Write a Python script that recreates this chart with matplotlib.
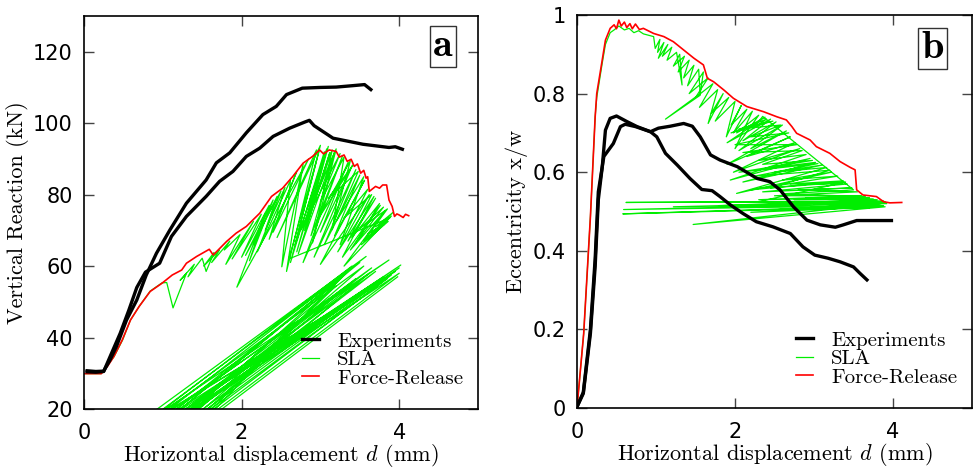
import matplotlib.pyplot as plt

plt.rcParams['mathtext.fontset'] = 'cm'
plt.rcParams['axes.unicode_minus'] = False

GREEN = '#00ee00'
RED = '#ff0000'

# ---- panel a: vertical reaction (kN) vs displacement (mm)
a_exp1_d = [0.04, 0.15, 0.25, 0.33, 0.41, 0.54, 0.67, 0.79, 0.92, 1.09, 1.30, 1.55,
            1.68, 1.85, 2.06, 2.27, 2.44, 2.57, 2.77, 3.00, 3.20, 3.41, 3.56, 3.64]
a_exp1_f = [30.7, 30.5, 30.6, 33.7, 37.4, 44.9, 50.5, 57.5, 63.6, 70.1, 77.6, 84.1,
            88.9, 91.7, 97.3, 102.4, 104.7, 108.0, 109.8, 110.0, 110.1, 110.5, 110.8, 109.4]

a_exp2_d = [0.04, 0.15, 0.25, 0.34, 0.46, 0.57, 0.67, 0.78, 0.96, 1.11, 1.30, 1.55, 1.72,
            1.89, 2.06, 2.23, 2.40, 2.61, 2.80, 2.86, 2.92, 3.16, 3.54, 3.87, 3.95, 4.04]
a_exp2_f = [30.4, 30.3, 30.5, 35.1, 41.2, 47.7, 54.0, 58.3, 60.8, 68.3, 73.9, 79.5, 83.7,
            86.5, 90.7, 93.0, 96.3, 98.6, 100.3, 100.8, 99.3, 95.8, 94.1, 93.2, 93.4, 92.7]

a_fr_d = [0, 0.22, 0.30, 0.38, 0.485, 0.59, 0.70, 0.84, 0.99, 1.12, 1.24, 1.30, 1.43,
          1.59, 1.64, 1.81, 1.93, 2.06, 2.23, 2.38, 2.52, 2.65, 2.78, 2.90, 2.99, 3.04,
          3.11, 3.20, 3.24, 3.30, 3.34, 3.39, 3.43, 3.47, 3.51, 3.55, 3.58, 3.60, 3.62,
          3.70, 3.75, 3.79, 3.84, 3.87, 3.91, 3.94, 3.97, 4.00, 4.05, 4.08, 4.12]
a_fr_f = [29.9, 29.9, 32.0, 34.7, 39.3, 44.9, 48.7, 52.9, 55.2, 57.5, 58.9, 60.8, 62.7,
          64.7, 63.1, 66.9, 69.2, 71.1, 74.8, 79.5, 81.8, 85.1, 88.8, 90.7, 92.5, 91.4,
          92.5, 92.1, 90.5, 91.1, 89.3, 89.9, 87.9, 88.6, 86.0, 86.8, 84.6, 85.0, 80.9,
          82.3, 81.8, 82.7, 82.7, 78.5, 76.7, 73.9, 74.6, 74.3, 73.6, 74.5, 74.1]

a_sla_d = [0.00, 0.22, 0.38, 0.49, 0.59, 0.70, 0.84, 0.99, 1.05, 1.13, 1.30, 1.22, 1.40,
           1.32, 1.50, 1.55, 1.65, 1.52, 1.72, 1.62, 1.85, 1.78, 1.98,
           1.80, 2.15, 1.88, 2.25, 2.00, 2.35, 2.15, 2.45, 2.30, 2.55, 2.35, 2.70, 2.40,
           2.85,
           1.94, 2.30, 2.10, 2.40, 2.05, 2.50, 2.20, 2.62, 2.51, 2.78, 2.57, 2.95, 2.45,
           3.00, 2.62, 3.05, 2.70, 3.10, 2.85, 3.15, 2.90, 3.20, 2.75, 3.25, 3.00, 3.30,
           3.15, 3.38, 2.95, 3.42, 3.10, 3.48, 3.20, 3.55, 3.25, 3.60, 3.30, 3.65, 3.35,
           3.70, 3.40, 3.75, 3.45, 3.80, 3.50, 3.85, 3.55, 3.92, 3.70, 3.88,
           2.60, 2.98, 2.68, 3.08, 2.80, 3.12, 2.72, 3.18, 2.88, 3.28, 2.78, 3.35, 3.00,
           3.40, 2.92, 3.45, 3.05, 3.50, 3.18, 3.56, 3.00, 3.62, 3.22, 3.68, 3.28, 3.76,
           3.38, 3.82, 3.30, 3.90, 3.52, 3.86, 3.60, 3.80]
a_sla_f = [29.9, 29.9, 34.6, 39.3, 44.9, 48.7, 53.0, 55.3, 55.4, 48.3, 58.0, 56.0, 60.5,
           57.0, 62.2, 58.5, 63.8, 60.0, 64.5, 61.0, 67.0, 64.5, 68.8,
           60.5, 72.5, 62.0, 74.5, 62.5, 77.0, 66.0, 79.5, 70.0, 82.0, 67.5, 86.5, 69.5,
           90.0,
           54.1, 74.8, 61.5, 78.5, 63.0, 81.0, 64.0, 84.0, 59.8, 88.5, 58.5, 92.5, 68.0,
           93.8, 61.0, 92.0, 64.0, 93.5, 73.0, 92.5, 66.5, 92.8, 70.0, 91.5, 78.0, 90.5,
           70.2, 89.5, 72.5, 88.5, 79.0, 86.5, 72.5, 85.0, 66.0, 81.5, 73.5, 80.0, 67.0,
           79.0, 68.0, 77.5, 66.5, 76.5, 70.5, 76.0, 67.0, 75.0, 71.0, 73.5,
           62.0, 92.0, 66.0, 92.8, 70.0, 91.8, 63.5, 92.0, 68.5, 90.8, 61.0, 89.0, 69.5,
           88.0, 62.5, 87.0, 66.0, 85.5, 68.5, 84.0, 60.5, 80.0, 64.0, 79.5, 62.5, 77.0,
           64.5, 75.5, 60.0, 74.0, 66.0, 72.5, 69.0, 71.5]

a_fan_d = [0.62, 3.58, 0.80, 3.87, 0.70, 3.50, 0.95, 4.02, 1.53, 3.95, 0.85, 3.65, 1.05,
           3.80, 0.90, 3.30, 1.15, 3.70, 1.00, 3.45, 1.25, 4.00, 1.10, 3.20, 1.35, 3.90,
           0.75, 3.55, 1.20, 3.75, 0.95, 3.35, 1.40, 4.00, 1.05, 3.62, 1.30, 3.85, 0.72,
           3.40, 1.45, 3.98]
a_fan_f = [15, 62.7, 15, 61.7, 15, 61.0, 15, 60.3, 22.5, 58.5, 15, 59.5, 15,
           57.0, 15, 57.5, 15, 58.5, 15, 56.5, 15, 59.5, 15, 54.5, 15, 57.5,
           15, 60.0, 15, 56.0, 15, 58.5, 15, 58.0, 15, 58.0, 15, 56.5, 15,
           60.0, 15, 57.0]

# ---- panel b: eccentricity x/w vs displacement (mm)
b_exp1_d = [0, 0.08, 0.17, 0.23, 0.27, 0.32, 0.36, 0.42, 0.50, 0.63, 0.76, 0.93, 1.01,
            1.12, 1.27, 1.43, 1.58, 1.71, 1.81, 1.94, 2.10, 2.27, 2.48, 2.70, 2.86, 3.01,
            3.18, 3.33, 3.50, 3.58, 3.67]
b_exp1_e = [0.003, 0.037, 0.19, 0.36, 0.53, 0.614, 0.707, 0.737, 0.743, 0.729, 0.716,
            0.703, 0.690, 0.648, 0.618, 0.584, 0.556, 0.553, 0.538, 0.517, 0.495, 0.474,
            0.461, 0.444, 0.41, 0.389, 0.381, 0.372, 0.359, 0.343, 0.326]

b_exp2_d = [0, 0.08, 0.17, 0.23, 0.27, 0.34, 0.46, 0.55, 0.61, 0.74, 0.93, 1.03, 1.18,
            1.35, 1.46, 1.56, 1.69, 1.81, 2.03, 2.28, 2.44, 2.57, 2.74, 2.91, 3.08, 3.27,
            3.37, 3.54, 3.98]
b_exp2_e = [0.003, 0.04, 0.20, 0.38, 0.55, 0.64, 0.673, 0.716, 0.722, 0.716, 0.703,
            0.712, 0.717, 0.724, 0.717, 0.690, 0.644, 0.631, 0.614, 0.584, 0.576, 0.555,
            0.512, 0.478, 0.466, 0.46, 0.466, 0.477, 0.477]

b_fr_d = [0, 0.085, 0.17, 0.23, 0.25, 0.32, 0.36, 0.42, 0.47, 0.50, 0.53, 0.56, 0.60,
          0.63, 0.67, 0.70, 0.74, 0.79, 0.84, 0.97, 1.10, 1.22, 1.35, 1.48, 1.60, 1.65,
          1.73, 1.86, 1.98, 2.15, 2.36, 2.53, 2.65, 2.72, 2.78, 2.95, 3.03, 3.20, 3.33,
          3.46, 3.52, 3.54, 3.62, 3.79, 3.88, 3.96, 4.11]
b_fr_e = [0, 0.19, 0.487, 0.741, 0.80, 0.886, 0.936, 0.966, 0.975, 0.965, 0.987, 0.972,
          0.982, 0.968, 0.978, 0.965, 0.977, 0.963, 0.966, 0.953, 0.945, 0.932, 0.911,
          0.890, 0.873, 0.839, 0.830, 0.809, 0.788, 0.767, 0.754, 0.741, 0.733, 0.716,
          0.699, 0.682, 0.665, 0.648, 0.627, 0.612, 0.606, 0.555, 0.542, 0.538, 0.525,
          0.522, 0.523]

b_sla_d = [0, 0.085, 0.17, 0.23, 0.25, 0.32, 0.36, 0.42, 0.47, 0.53, 0.60, 0.66, 0.72,
           0.78, 0.84, 0.97,
           0.99, 1.05, 1.02, 1.10, 1.03, 1.15, 1.08, 1.20, 1.14, 1.26, 1.33, 1.30, 1.22,
           1.36, 1.28, 1.42, 1.35, 1.48, 1.40, 1.54, 1.56, 1.12, 1.56, 1.60,
           1.42, 1.66, 1.50, 1.72, 1.55, 1.78, 1.66, 1.85, 1.70, 1.92, 1.75, 2.00, 1.89,
           2.08, 1.95, 2.15, 1.98, 2.22, 2.00, 2.30, 2.02, 2.38, 1.90, 2.45, 2.10, 2.52,
           2.05, 2.60, 2.20, 2.65, 1.90, 2.70, 2.15, 2.76, 1.98, 2.82, 2.30, 2.90, 1.94,
           2.95, 2.40, 3.02, 2.10, 3.10, 2.50, 3.16, 2.02, 3.22, 2.60, 3.30, 2.20, 3.37,
           2.70, 3.42, 2.35, 3.48, 2.80, 3.55, 2.50, 3.60, 2.30, 3.70, 2.90, 3.80, 1.80,
           3.88, 0.62, 3.90, 1.22, 3.92, 0.59, 3.88, 0.58, 3.90, 1.47, 3.85,
           2.30, 3.40, 2.45, 3.20, 2.25, 3.05, 2.05, 2.98, 2.35, 2.85, 2.10, 2.78, 2.00,
           2.68, 2.20, 2.58, 2.05, 2.48, 1.95, 2.40, 2.25, 2.35, 3.50, 2.60, 3.65, 2.75,
           3.75, 3.00, 3.92, 2.55, 3.82, 2.20, 3.70]
b_sla_e = [0, 0.19, 0.487, 0.741, 0.79, 0.878, 0.925, 0.955, 0.962, 0.972, 0.962, 0.966,
           0.955, 0.960, 0.952, 0.945,
           0.915, 0.938, 0.905, 0.930, 0.89, 0.925, 0.895, 0.918, 0.885, 0.905, 0.822,
           0.90, 0.87, 0.895, 0.855, 0.885, 0.84, 0.872, 0.82, 0.862, 0.796, 0.735, 0.80,
           0.855,
           0.80, 0.84, 0.79, 0.825, 0.765, 0.81, 0.724, 0.80, 0.75, 0.79, 0.73, 0.78, 0.69,
           0.77, 0.72, 0.76, 0.70, 0.755, 0.66, 0.745, 0.70, 0.74, 0.675, 0.735, 0.68,
           0.728, 0.655, 0.72, 0.66, 0.705, 0.62, 0.69, 0.64, 0.675, 0.60, 0.66, 0.63,
           0.645, 0.58, 0.635, 0.61, 0.625, 0.575, 0.618, 0.60, 0.612, 0.546, 0.60, 0.58,
           0.59, 0.555, 0.578, 0.57, 0.57, 0.55, 0.56, 0.555, 0.55, 0.54, 0.54, 0.53,
           0.535, 0.535, 0.53, 0.515, 0.527, 0.523, 0.525, 0.512, 0.52, 0.505, 0.515,
           0.494, 0.512, 0.467, 0.52,
           0.525, 0.575, 0.56, 0.605, 0.59, 0.622, 0.60, 0.63, 0.62, 0.655, 0.65, 0.67,
           0.67, 0.70, 0.69, 0.72, 0.71, 0.73, 0.70, 0.735, 0.715, 0.742, 0.555, 0.545,
           0.538, 0.53, 0.532, 0.52, 0.522, 0.505, 0.516, 0.498, 0.51]

x_ticks = [0, 2, 4]
a_yticks = [20, 40, 60, 80, 100, 120]
b_yticks = [0, 0.2, 0.4, 0.6, 0.8, 1.0]
b_yticklabels = ['0', '0.2', '0.4', '0.6', '0.8', '1']

fig = plt.figure(figsize=(9.73, 4.73), dpi=100)
ax_a = fig.add_axes([0.0863, 0.1353, 0.405, 0.8309])
ax_b = fig.add_axes([0.5930, 0.1374, 0.406, 0.8309])

serif = 'cmr10'


def style(ax, ylabel):
    ax.tick_params(direction='in', top=True, right=True, length=7, width=1,
                   labelsize=15, color='#444444')
    ax.tick_params(axis='x', pad=10)
    ax.tick_params(axis='y', pad=8)
    for s in ax.spines.values():
        s.set_linewidth(1.2)
    ax.set_xlim(0, 5)
    ax.set_xticks(x_ticks)
    ax.set_xlabel(r'Horizontal displacement $d$ (mm)', family=serif, fontsize=16, labelpad=-1)
    ax.set_ylabel(ylabel, family=serif, fontsize=16, labelpad=3)
    ax.legend(handles=[ax.lines[-1], ax.lines[0], ax.lines[-3]],
              labels=['Experiments', 'SLA', 'Force-Release'],
              prop={'family': serif, 'size': 15}, frameon=False,
              loc='lower right', bbox_to_anchor=(1.0, 0.017),
              handlelength=0.8, handletextpad=0.9, labelspacing=0.0, borderpad=0.2)


# panel a
ax_a.plot(a_sla_d, a_sla_f, color=GREEN, lw=0.9)
ax_a.plot(a_fan_d, a_fan_f, color=GREEN, lw=0.9)
ax_a.plot(a_fr_d, a_fr_f, color=RED, lw=1.2)
ax_a.plot(a_exp2_d, a_exp2_f, color='black', lw=2.4)
ax_a.plot(a_exp1_d, a_exp1_f, color='black', lw=2.4)
ax_a.set_ylim(20, 130)
ax_a.set_yticks(a_yticks)
style(ax_a, 'Vertical Reaction (kN)')

# panel b
ax_b.plot(b_sla_d, b_sla_e, color=GREEN, lw=0.9)
ax_b.plot(b_sla_d[:1], b_sla_e[:1], color=GREEN, lw=0.9)
ax_b.plot(b_fr_d, b_fr_e, color=RED, lw=1.2)
ax_b.plot(b_exp2_d, b_exp2_e, color='black', lw=2.4)
ax_b.plot(b_exp1_d, b_exp1_e, color='black', lw=2.4)
ax_b.set_ylim(0, 1)
ax_b.set_yticks(b_yticks)
ax_b.set_yticklabels(b_yticklabels)
style(ax_b, 'Eccentricity x/w')

for ax, lab, pos in [(ax_a, 'a', (0.91, 0.922)), (ax_b, 'b', (0.90, 0.915))]:
    ax.text(pos[0], pos[1], lab, transform=ax.transAxes, family='cmb10', fontsize=29,
            ha='center', va='center',
            bbox=dict(boxstyle='square,pad=0.08', fc='white', ec='#333333', lw=1))

fig.savefig('out.png', dpi=100)
